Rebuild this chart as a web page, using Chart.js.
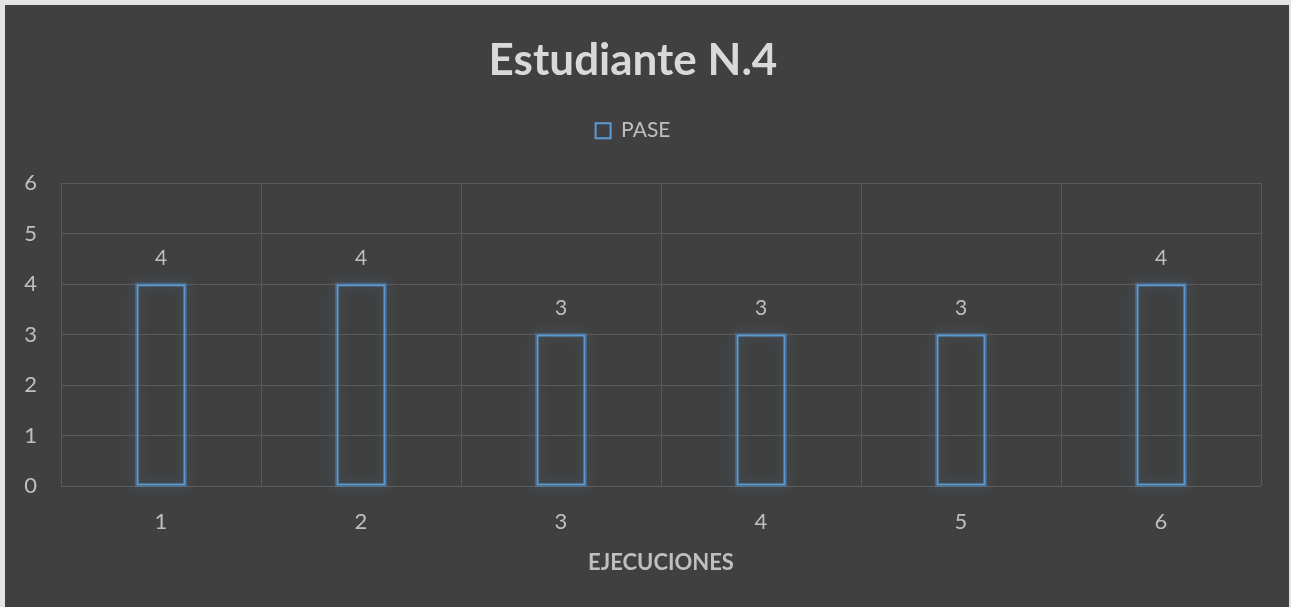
<!DOCTYPE html>
<html>
<head>
<meta charset="utf-8">
<script src="https://cdn.jsdelivr.net/npm/chart.js@4"></script>
<style>
  html, body { margin: 0; padding: 0; background: #e3e3e3; }
  #wrap { position: absolute; left: 5px; top: 5px; width: 1284px; height: 602px; background: #404040; }
</style>
</head>
<body>
<div id="wrap"><canvas id="chart" width="1284" height="602"></canvas></div>
<script>
const categories = ["1", "2", "3", "4", "5", "6"];
const paseValues = [4, 4, 3, 3, 3, 4];
const yTicks = [0, 1, 2, 3, 4, 5, 6];

const FONT = "Lato, 'Liberation Sans', sans-serif";
const TEXT = "#bfbfbf";
const BLUE = "#5b9bd5";

// soft blue glow behind each bar outline
const glow = {
    id: "glow",
    beforeDatasetsDraw(chart) {
        const c = chart.ctx;
        const meta = chart.getDatasetMeta(0);
        c.save();
        c.strokeStyle = "rgba(91,155,213,0.35)";
        c.lineWidth = 3;
        c.shadowColor = "rgba(91,155,213,1)";
        c.shadowBlur = 12;
        meta.data.forEach(bar => {
            const p = bar.getProps(["x", "y", "base", "width"], true);
            c.strokeRect(p.x - p.width / 2, p.y, p.width, p.base - p.y);
        });
        c.restore();
    }
};

// value labels above the bars
const valueLabels = {
    id: "valueLabels",
    afterDatasetsDraw(chart) {
        const c = chart.ctx;
        const meta = chart.getDatasetMeta(0);
        c.save();
        c.font = "21px " + FONT;
        c.fillStyle = TEXT;
        c.textAlign = "center";
        c.textBaseline = "middle";
        meta.data.forEach((bar, i) => {
            c.fillText(String(paseValues[i]), bar.x, bar.y - 26);
        });
        c.restore();
    }
};

new Chart(document.getElementById("chart"), {
    type: "bar",
    data: {
        labels: categories,
        datasets: [{
            label: "PASE",
            data: paseValues,
            backgroundColor: "rgba(0,0,0,0)",
            borderColor: BLUE,
            borderWidth: 2,
            borderSkipped: false,
            barPercentage: 0.245,
            categoryPercentage: 1
        }]
    },
    options: {
        responsive: false,
        animation: false,
        layout: { padding: { top: 8, right: 28, bottom: 8, left: 0 } },
        plugins: {
            title: {
                display: true,
                text: "Estudiante N.4",
                color: "#d9d9d9",
                font: { family: FONT, size: 44, weight: "bold", lineHeight: 0.8 },
                padding: { top: 30, bottom: 0 }
            },
            legend: {
                display: true,
                labels: {
                    color: TEXT,
                    font: { family: FONT, size: 21 },
                    boxWidth: 15,
                    boxHeight: 15,
                    padding: 42,
                    generateLabels: () => [{
                        text: "PASE",
                        fillStyle: "rgba(0,0,0,0)",
                        strokeStyle: BLUE,
                        lineWidth: 2,
                        fontColor: TEXT,
                        datasetIndex: 0
                    }]
                }
            },
            tooltip: { enabled: false }
        },
        scales: {
            x: {
                grid: { color: "#595959", lineWidth: 1, drawTicks: false, offset: true },
                border: { display: false },
                afterFit: s => { s.height = 113; },
                ticks: { color: TEXT, font: { family: FONT, size: 22 }, padding: 23 },
                title: {
                    display: true,
                    text: "EJECUCIONES",
                    color: TEXT,
                    font: { family: FONT, size: 22, weight: "bold" },
                    padding: { top: 0, bottom: 23 }
                }
            },
            // empty spacer between legend and plot
            xTop: {
                type: "category",
                position: "top",
                labels: categories,
                grid: { display: false, drawTicks: false },
                border: { display: false },
                ticks: { display: false },
                afterFit: s => { s.height = 32; }
            },
            y: {
                min: 0,
                max: 6,
                grid: { color: "#595959", lineWidth: 1, drawTicks: false },
                border: { display: false },
                afterBuildTicks: s => { s.ticks = yTicks.map(v => ({ value: v })); },
                afterFit: s => { s.width = 56; },
                ticks: { color: TEXT, font: { family: FONT, size: 22 }, padding: 24 }
            }
        }
    },
    plugins: [glow, valueLabels]
});
</script>
</body>
</html>
